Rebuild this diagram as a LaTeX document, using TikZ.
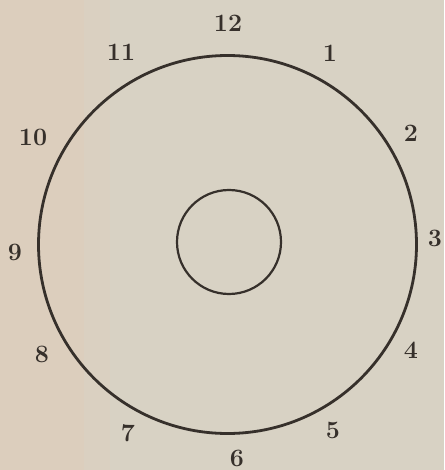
\documentclass[tikz,border=0pt]{standalone}
\usepackage{xcolor}
\definecolor{paper}{HTML}{D8D2C4}
\definecolor{paperleft}{HTML}{DCCEBD}
\definecolor{ink}{HTML}{36302B}
\begin{document}
\begin{tikzpicture}[x=1pt,y=-1pt,
  numlabel/.style={text=ink,font=\fontsize{25}{25}\selectfont\bfseries,inner sep=0pt},
  ring/.style={draw=ink,line width=2.8pt}]
\useasboundingbox (0,0) rectangle (444,470);
\fill[paper] (0,0) rectangle (444,470);
\fill[paperleft] (0,0) rectangle (84,470);
\fill[paperleft!50!paper] (84,0) rectangle (110,470);
\node[ring,circle,minimum size=378pt,inner sep=0pt] (outer) at (227.5,244.5) {};
\node[ring,circle,line width=2.2pt,minimum size=104pt,inner sep=0pt] (inner) at (229,242) {};
\node[numlabel] (n12) at (228,23) {12};
\node[numlabel] (n1) at (330,53) {1};
\node[numlabel] (n2) at (411,133) {2};
\node[numlabel] (n3) at (435,238) {3};
\node[numlabel] (n4) at (411,350) {4};
\node[numlabel] (n5) at (333,430) {5};
\node[numlabel] (n6) at (237,458) {6};
\node[numlabel] (n7) at (128,433) {7};
\node[numlabel] (n8) at (42,354) {8};
\node[numlabel] (n9) at (15,252) {9};
\node[numlabel] (n10) at (33,137) {10};
\node[numlabel] (n11) at (121,52) {11};
\end{tikzpicture}
\end{document}
